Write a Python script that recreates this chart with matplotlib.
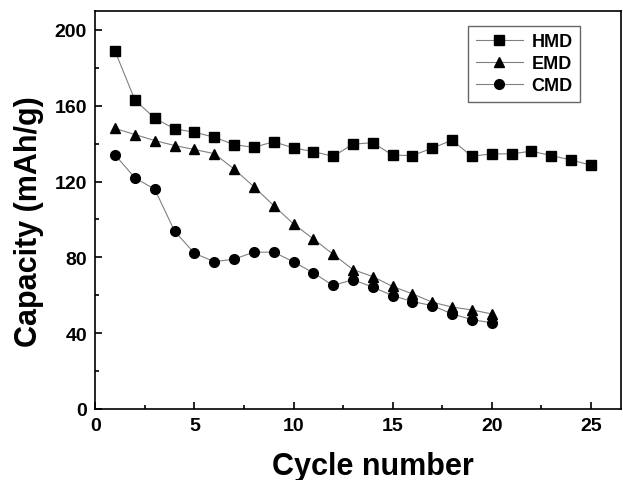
import matplotlib
matplotlib.use("Agg")
import matplotlib.pyplot as plt
import numpy as np

plt.rcParams["font.family"] = ["Liberation Sans", "DejaVu Sans"]
plt.rcParams["font.weight"] = "bold"

# --- data ---
cycles_hmd = np.arange(1, 26)
hmd = [188.7, 163.0, 153.4, 147.8, 146.0, 143.4, 139.5, 138.0, 141.0, 137.7,
       135.8, 133.3, 139.7, 140.5, 133.9, 133.7, 137.6, 141.8, 133.3, 134.6,
       134.6, 136.0, 133.7, 131.4, 128.6]
cycles_20 = np.arange(1, 21)
emd = [148.0, 144.8, 141.6, 139.0, 136.9, 134.7, 126.6, 117.3, 107.3, 97.6,
       89.7, 81.6, 73.5, 69.8, 64.6, 60.7, 56.3, 53.7, 52.2, 50.1]
cmd = [134.0, 121.9, 115.9, 93.8, 82.1, 77.7, 79.0, 82.7, 82.7, 77.6,
       71.8, 65.1, 68.2, 64.2, 59.8, 56.6, 54.5, 50.1, 47.1, 45.4]

fig = plt.figure(figsize=(6.23, 4.81), dpi=100)
ax = fig.add_axes([0.153, 0.148, 0.843, 0.827])

line_kw = dict(color="#808080", lw=0.8, mfc="black", mec="black")
ax.plot(cycles_hmd, hmd, marker="s", ms=6.5, label="HMD", **line_kw)
ax.plot(cycles_20, emd, marker="^", ms=7.5, label="EMD", **line_kw)
ax.plot(cycles_20, cmd, marker="o", ms=7, label="CMD", **line_kw)

ax.set_xlim(0, 26.5)
ax.set_ylim(0, 210)
ax.set_xticks([0, 5, 10, 15, 20, 25])
ax.set_xticks(np.arange(2.5, 26, 5), minor=True)
ax.set_yticks([0, 40, 80, 120, 160, 200])
ax.set_yticks([20, 60, 100, 140, 180], minor=True)
ax.tick_params(which="both", direction="in", width=1.2)
ax.tick_params(which="major", length=5, labelsize=14, pad=6)
ax.tick_params(which="minor", length=3)
for lbl in ax.get_xticklabels() + ax.get_yticklabels():
    lbl.set_fontweight("bold")
for s in ax.spines.values():
    s.set_linewidth(1.2)

ax.set_xlabel("Cycle number", fontsize=22, fontweight="bold")
ax.set_ylabel("Capacity (mAh/g)", fontsize=22, fontweight="bold")
ax.xaxis.set_label_coords(0.529, -0.105)
ax.yaxis.set_label_coords(-0.097, 0.472)

leg = ax.legend(loc="upper right", bbox_to_anchor=(0.94, 0.985),
                fancybox=False, edgecolor="#404040", fontsize=13,
                handlelength=2.6, borderpad=0.4, labelspacing=0.28,
                handletextpad=0.5)
leg.get_frame().set_linewidth(1.0)

plt.savefig("out.png", dpi=100)
